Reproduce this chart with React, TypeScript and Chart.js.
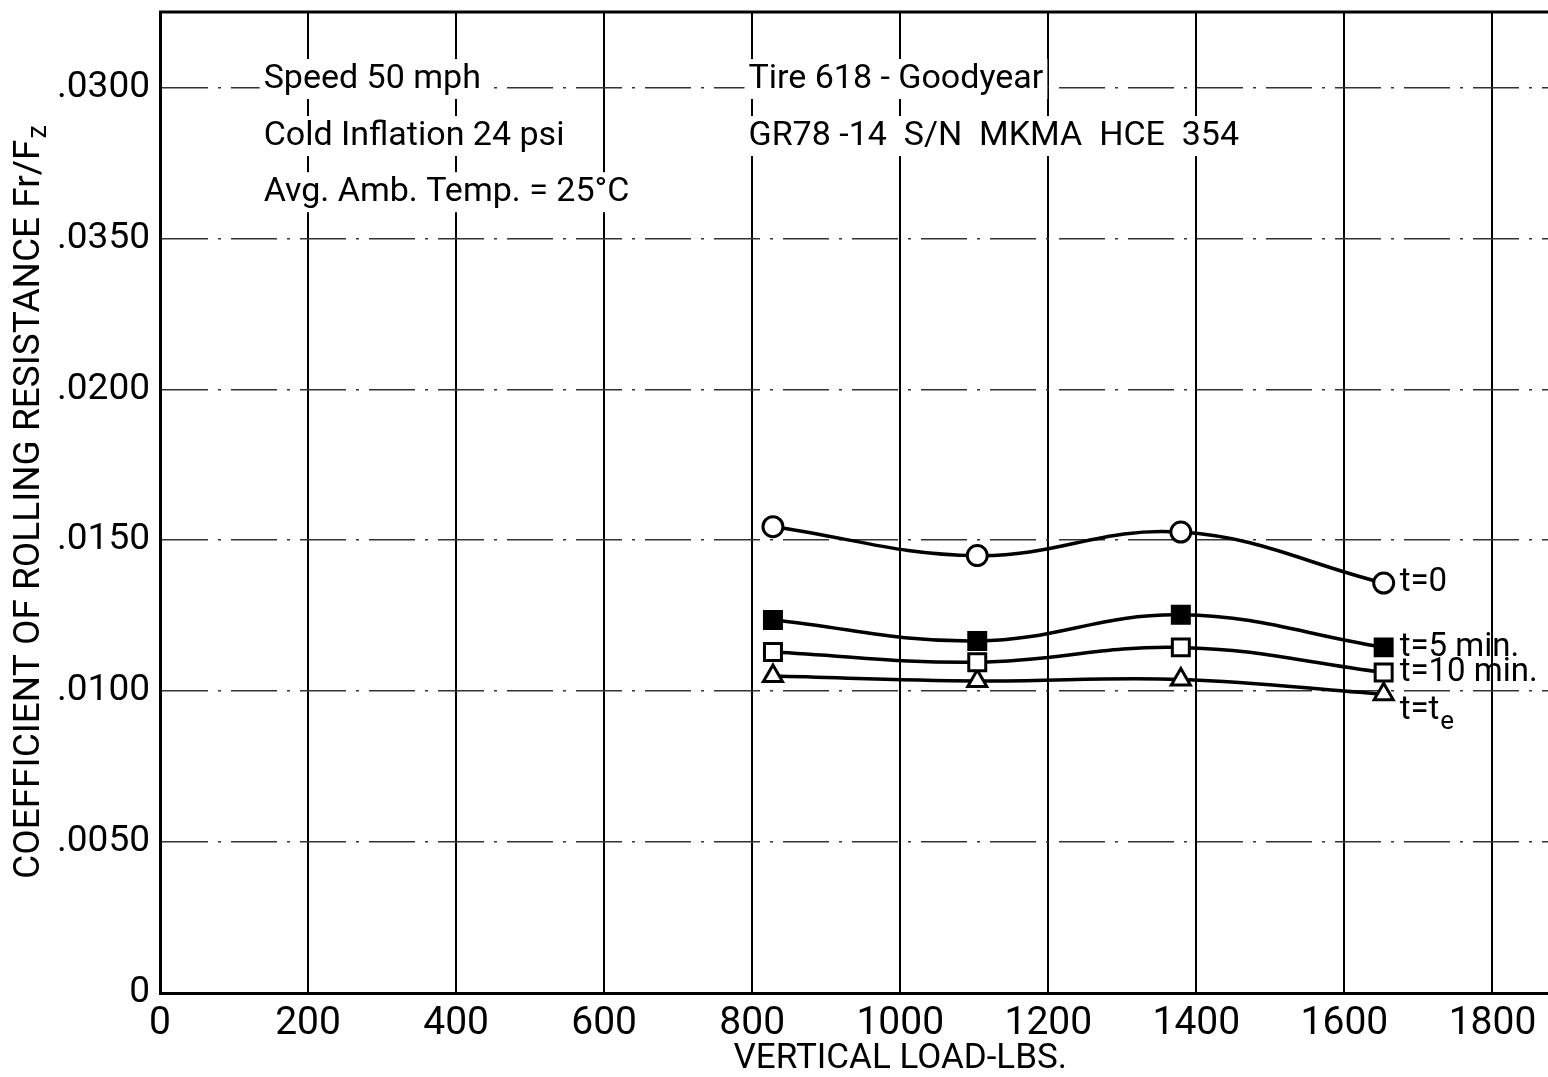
import React, { useEffect, useRef } from "react";
import { Chart, registerables } from "chart.js";

Chart.register(...registerables);

// ---- data ----
const loads = [828, 1104, 1379, 1653];
const seriesT0 = [0.01545, 0.01449, 0.01527, 0.01358];
const seriesT5 = [0.01236, 0.01166, 0.01253, 0.01145];
const seriesT10 = [0.0113, 0.01096, 0.01145, 0.01062];
const seriesTe = [0.0105, 0.01034, 0.01039, 0.0099];

const xTickValues = [0, 200, 400, 600, 800, 1000, 1200, 1400, 1600, 1800];
const xTickLabels = ["0", "200", "400", "600", "800", "1000", "1200", "1400", "1600", "1800"];
const yTickValues = [0, 0.005, 0.01, 0.015, 0.02, 0.025, 0.03];
const yTickLabels = ["0", ".0050", ".0100", ".0150", ".0200", ".0350", ".0300"];

const endLabels = ["t=0", "t=5 min.", "t=10 min.", "t=t"];
const notesLeft = ["Speed 50 mph", "Cold Inflation 24 psi", "Avg. Amb. Temp. = 25°C"];
const notesRight = ["Tire 618 - Goodyear", "GR78 -14  S/N  MKMA  HCE  354"];
const xTitle = "VERTICAL LOAD-LBS.";
const yTitleMain = "COEFFICIENT OF ROLLING RESISTANCE Fr/F";
const yTitleSub = "z";

const FONT = "Roboto, 'DejaVu Sans', sans-serif";

export default function App() {
  const ref = useRef<HTMLCanvasElement | null>(null);

  useEffect(() => {
    document.body.style.margin = "0";
    const canvas = ref.current;
    if (!canvas) return;

    const decorPlugin = {
      id: "decor",
      beforeDatasetsDraw(chart: any) {
        const { ctx, chartArea, scales } = chart;
        const xs = scales.x;
        const ys = scales.y;
        ctx.save();
        // top border
        ctx.strokeStyle = "#000";
        ctx.lineWidth = 3;
        ctx.beginPath();
        ctx.moveTo(chartArea.left - 1, chartArea.top);
        ctx.lineTo(chartArea.right, chartArea.top);
        ctx.stroke();

        // notes with white background
        ctx.font = `34px ${FONT}`;
        ctx.textBaseline = "middle";
        ctx.textAlign = "left";
        const rowVals = [0.03028, 0.02839, 0.02653];
        const drawNote = (txt: string, xv: number, yv: number) => {
          const px = xs.getPixelForValue(xv);
          const py = ys.getPixelForValue(yv);
          const w = ctx.measureText(txt).width;
          ctx.fillStyle = "#fff";
          ctx.fillRect(px - 4, py - 20, w + 8, 40);
          ctx.fillStyle = "#000";
          ctx.fillText(txt, px, py);
        };
        notesLeft.forEach((t, i) => drawNote(t, 140, rowVals[i]));
        notesRight.forEach((t, i) => drawNote(t, 795, rowVals[i]));

        // x axis title
        ctx.font = `35px ${FONT}`;
        ctx.textAlign = "center";
        ctx.fillStyle = "#000";
        ctx.fillText(xTitle, xs.getPixelForValue(1000), chartArea.bottom + 66);

        // y axis title, rotated, with subscript
        ctx.save();
        ctx.translate(30, (chartArea.top + chartArea.bottom) / 2);
        ctx.rotate(-Math.PI / 2);
        ctx.font = `37px ${FONT}`;
        const wMain = ctx.measureText(yTitleMain).width;
        ctx.font = `27px ${FONT}`;
        const wSub = ctx.measureText(yTitleSub).width;
        const start = -(wMain + wSub) / 2;
        ctx.fillStyle = "#000";
        ctx.textBaseline = "middle";
        ctx.textAlign = "left";
        ctx.font = `37px ${FONT}`;
        ctx.fillText(yTitleMain, start, 0);
        ctx.font = `27px ${FONT}`;
        ctx.fillText(yTitleSub, start + wMain + 1, 9);
        ctx.restore();
        ctx.restore();
      },
      afterDatasetsDraw(chart: any) {
        const { ctx } = chart;
        ctx.save();
        ctx.fillStyle = "#000";
        ctx.textBaseline = "middle";
        ctx.textAlign = "left";
        chart.data.datasets.forEach((ds: any, i: number) => {
          const meta = chart.getDatasetMeta(i);
          const last = meta.data[meta.data.length - 1];
          const px = last.x + 16;
          const py = i === 3 ? last.y + 17 : last.y;
          ctx.font = `33px ${FONT}`;
          ctx.fillText(endLabels[i], px, py);
          if (i === 3) {
            const w = ctx.measureText(endLabels[i]).width;
            ctx.font = `26px ${FONT}`;
            ctx.fillText("e", px + w + 1, py + 11);
          }
        });
        ctx.restore();
      },
    };

    const common = {
      borderColor: "#000",
      borderWidth: 3.5,
      tension: 0.4,
      pointBorderColor: "#000",
      pointBorderWidth: 3,
    };

    const chart = new Chart(canvas, {
      type: "line",
      data: {
        datasets: [
          {
            ...common,
            label: endLabels[0],
            data: loads.map((x, i) => ({ x, y: seriesT0[i] })),
            pointStyle: "circle",
            pointRadius: 10,
            pointBackgroundColor: "#fff",
          },
          {
            ...common,
            label: endLabels[1],
            data: loads.map((x, i) => ({ x, y: seriesT5[i] })),
            pointStyle: "rect",
            pointRadius: 12,
            pointBackgroundColor: "#000",
          },
          {
            ...common,
            label: endLabels[2],
            data: loads.map((x, i) => ({ x, y: seriesT10[i] })),
            pointStyle: "rect",
            pointRadius: 12,
            pointBackgroundColor: "#fff",
          },
          {
            ...common,
            label: endLabels[3],
            data: loads.map((x, i) => ({ x, y: seriesTe[i] })),
            pointStyle: "triangle",
            pointRadius: 11,
            pointBackgroundColor: "#fff",
          },
        ],
      },
      options: {
        responsive: false,
        animation: false,
        layout: { autoPadding: false, padding: { top: 12, right: 0, left: 0, bottom: 0 } },
        plugins: {
          legend: { display: false },
          tooltip: { enabled: false },
          title: { display: false },
        },
        scales: {
          x: {
            type: "linear",
            min: 0,
            max: 1875,
            afterFit: (s: any) => {
              s.height = 84;
              s.paddingLeft = 0;
              s.paddingRight = 0;
            },
            afterBuildTicks: (s: any) => {
              s.ticks = xTickValues.map((v) => ({ value: v }));
            },
            ticks: {
              color: "#000",
              font: { family: FONT, size: 39 },
              padding: 8,
              maxRotation: 0,
              autoSkip: false,
              callback: (_v: any, i: number) => xTickLabels[i],
            },
            grid: {
              color: (c: any) => (c.tick && c.tick.value === 0 ? "rgba(0,0,0,0)" : "#000"),
              lineWidth: 2,
              drawTicks: false,
            },
            border: { display: true, color: "#000", width: 3 },
          },
          y: {
            type: "linear",
            min: 0,
            max: 0.0325,
            afterFit: (s: any) => {
              s.width = 160;
              s.paddingTop = 0;
              s.paddingBottom = 0;
            },
            afterBuildTicks: (s: any) => {
              s.ticks = yTickValues.map((v) => ({ value: v }));
            },
            ticks: {
              color: "#000",
              font: { family: FONT, size: 37 },
              padding: 10,
              autoSkip: false,
              callback: (_v: any, i: number) => yTickLabels[i],
            },
            grid: {
              color: (c: any) => (c.tick && c.tick.value === 0 ? "rgba(0,0,0,0)" : "#333"),
              lineWidth: 1.5,
              drawTicks: false,
            },
            border: { display: true, color: "#000", width: 3, dash: [46, 10, 3, 10] },
          },
        },
      },
      plugins: [decorPlugin],
    });

    return () => chart.destroy();
  }, []);

  return (
    <div style={{ width: 1548, height: 1077, background: "#fff" }}>
      <canvas ref={ref} width={1548} height={1077} style={{ display: "block" }} />
    </div>
  );
}
